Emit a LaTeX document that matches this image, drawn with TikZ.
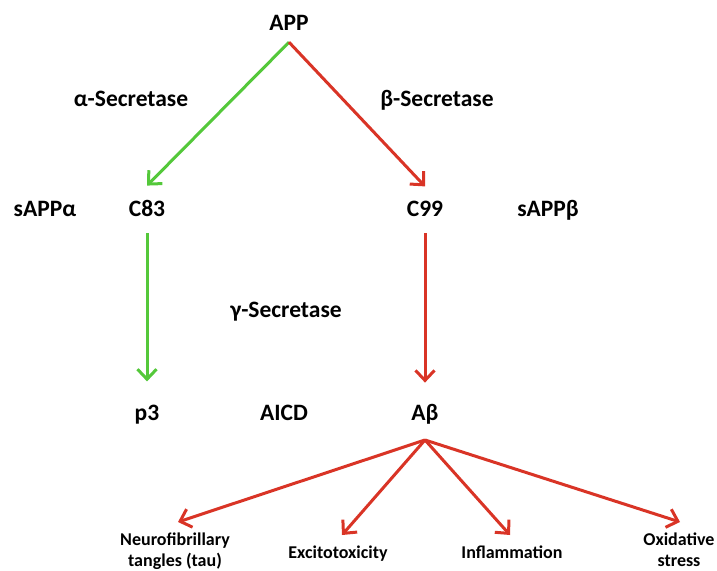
\documentclass[tikz,border=0pt]{standalone}
\usepackage{fontspec}
\setmainfont{Carlito}
\usetikzlibrary{arrows.meta}
\definecolor{cleavegreen}{RGB}{84,200,58}
\definecolor{cleavered}{RGB}{217,52,38}
\tikzstyle{molecule} = [inner sep=0pt, anchor=base,
    font=\bfseries\fontsize{23.5}{27}\selectfont]
\tikzstyle{effect} = [inner sep=0pt, anchor=north, align=center,
    font=\bfseries\fontsize{18}{21}\selectfont]
\tikzstyle{alphaline} = [draw, cleavegreen, line width=3pt,
    -{Straight Barb[length=10pt,width=19pt]}]
\tikzstyle{betaline} = [draw, cleavered, line width=3pt,
    -{Straight Barb[length=10pt,width=19pt]}]

\begin{document}
\begin{tikzpicture}[x=1pt, y=-1pt]
    \useasboundingbox (0,0) rectangle (717,570);
    % Place nodes
    \node [molecule] (app) at (289,30) {APP};
    \node [molecule] (asec) at (131,106) {α-Secretase};
    \node [molecule] (bsec) at (437,106) {β-Secretase};
    \node [molecule] (sappa) at (45,216) {sAPPα};
    \node [molecule] (c83) at (147,216) {C83};
    \node [molecule] (c99) at (425,216) {C99};
    \node [molecule] (sappb) at (548,216) {sAPPβ};
    \node [molecule] (gsec) at (286,317) {γ-Secretase};
    \node [molecule] (p3) at (147,420) {p3};
    \node [molecule] (aicd) at (284,420) {AICD};
    \node [molecule] (abeta) at (425,420) {Aβ};
    \node [effect] (tau) at (175,533) {Neurofibrillary\\tangles (tau)};
    \node [effect] (excito) at (338,546) {Excitotoxicity};
    \node [effect] (inflam) at (512,546) {Inflammation};
    \node [effect] (oxid) at (679,533) {Oxidative\\stress};
    \coordinate (fan) at ([yshift=-16pt]abeta.south);
    % Draw edges
    \path [alphaline] ([yshift=-12pt]app.south) -- ([yshift=14pt]c83.north);
    \path [betaline] ([yshift=-12pt]app.south) -- ([yshift=14pt]c99.north);
    \path [alphaline] ([yshift=-17pt]c83.south) -- ([yshift=23pt]p3.north);
    \path [betaline] ([yshift=-17pt]c99.south) -- ([yshift=21pt]abeta.north);
    \path [betaline] (fan) -- ([xshift=3pt,yshift=11pt]tau.north);
    \path [betaline] (fan) -- ([xshift=4pt,yshift=11pt]excito.north);
    \path [betaline] (fan) -- ([xshift=-2pt,yshift=11pt]inflam.north);
    \path [betaline] (fan) -- ([xshift=1pt,yshift=11pt]oxid.north);
\end{tikzpicture}
\end{document}
